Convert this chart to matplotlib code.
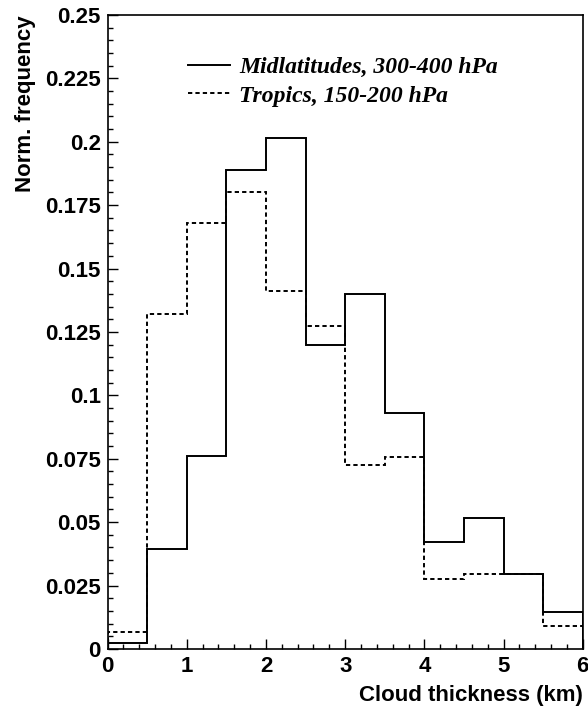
import numpy as np
import matplotlib
matplotlib.use('Agg')
import matplotlib.pyplot as plt
from matplotlib.ticker import MultipleLocator

# Bin edges of cloud thickness (km)
edges = [0, 0.5, 1, 1.5, 2, 2.5, 3, 3.5, 4, 4.5, 5, 5.5, 6]

# Normalised frequencies
midlat = [0.0024, 0.0394, 0.076, 0.189, 0.2015, 0.120, 0.140, 0.093,
          0.042, 0.0515, 0.0295, 0.0145]
tropics = [0.0068, 0.132, 0.168, 0.180, 0.141, 0.1275, 0.0725, 0.0755,
           0.0275, 0.0295, 0.0295, 0.009]

ytick_labels = ['0', '0.025', '0.05', '0.075', '0.1', '0.125', '0.15',
                '0.175', '0.2', '0.225', '0.25']

plt.rcParams['font.family'] = ['Liberation Sans', 'DejaVu Sans']

fig = plt.figure(figsize=(5.88, 7.10), dpi=100)
ax = fig.add_axes([0.183, 0.086, 0.808, 0.893])

ax.stairs(midlat, edges, color='black', lw=1.4,
          label='Midlatitudes, 300-400 hPa')
ax.stairs(tropics, edges, color='black', lw=1.4, linestyle=(0, (2.2, 1.6)),
          label='Tropics, 150-200 hPa')

ax.set_xlim(0, 6)
ax.set_ylim(0, 0.25)
ax.xaxis.set_major_locator(MultipleLocator(1))
ax.xaxis.set_minor_locator(MultipleLocator(0.2))
ax.yaxis.set_minor_locator(MultipleLocator(0.005))
ax.set_yticks(np.arange(0, 0.2501, 0.025))
ax.set_yticklabels(ytick_labels)

ax.tick_params(which='both', direction='in', top=False, right=False,
               labelsize=16, pad=5)
ax.tick_params(which='major', length=7, width=1)
ax.tick_params(which='minor', length=3.5, width=1)
for lab in ax.get_xticklabels() + ax.get_yticklabels():
    lab.set_fontweight('bold')

for s in ax.spines.values():
    s.set_linewidth(1.2)

ax.set_xlabel('Cloud thickness (km)', fontsize=16, fontweight='bold',
              loc='right', labelpad=6)
ax.set_ylabel('Norm. frequency', fontsize=16, fontweight='bold',
              loc='top', labelpad=6)

# legend sits in the upper left, no frame
leg = ax.legend(loc='upper left', bbox_to_anchor=(0.125, 0.968), frameon=False,
                handlelength=1.75, handletextpad=0.4, labelspacing=0.3,
                prop={'family': 'Liberation Serif', 'style': 'italic',
                      'weight': 'bold', 'size': 17})

fig.savefig('out.png', dpi=100)
